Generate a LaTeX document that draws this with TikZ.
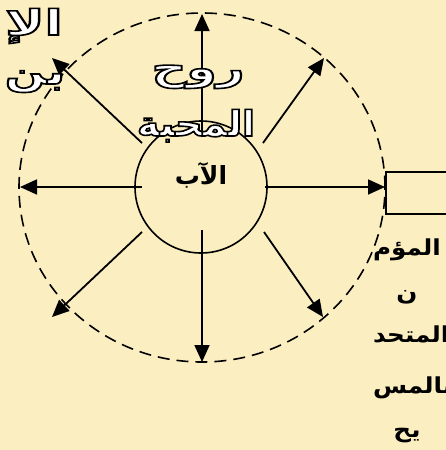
\documentclass[tikz,border=0pt]{standalone}
\usepackage{fontspec}
\usetikzlibrary{arrows.meta,shapes.geometric}
\newfontfamily\arabicfont[Script=Arabic]{DejaVu Sans}
\TeXXeTstate=1
\definecolor{bgc}{HTML}{FBEEC0}
\newcommand\artxt[1]{\arabicfont\beginR #1\endR}
% outlined text: white fill, black stroke (PDF text render mode 2)
\newcommand\outl[1]{\special{pdf:literal direct 1 g 0 G 2 Tr 1.6 w}#1\special{pdf:literal direct 0 Tr 1 w}}
\tikzset{
  otext/.style={inner sep=0pt, outer sep=0pt, anchor=base},
  arr/.style={line width=1.8pt, -{Triangle[length=17pt,width=15pt]}},
}
% name, position, size, x-scale, text
\newcommand\olnode[5]{%
  \node[otext, text=white] (#1) at (#2)
    {\scalebox{#4}[1]{\fontsize{#3}{#3}\selectfont\bfseries\outl{\artxt{#5}}}};
}
% name, position, size, anchor, x-scale, text
\newcommand\blnode[6]{%
  \node[otext, anchor=#4, text=black] (#1) at (#2)
    {\scalebox{#5}[1]{\fontsize{#3}{#3}\selectfont\bfseries\artxt{#6}}};
}
\begin{document}
\begin{tikzpicture}[x=1pt,y=-1pt]
\fill[bgc] (0,0) rectangle (446,450);
\useasboundingbox (0,0) rectangle (446,450);
\begin{scope}
\clip (0,0) rectangle (446,450);
% outer dashed circle
\node[ellipse, draw, dash pattern=on 12pt off 7pt, line width=1.6pt,
      minimum width=366pt, minimum height=349pt, inner sep=0pt, outer sep=0pt] (outer) at (202,187.5) {};
% inner circle
\node[circle, draw, line width=1.6pt, minimum size=132pt, inner sep=0pt, outer sep=0pt] (ab) at (201,187) {};
% box at right
\node[draw, line width=1.8pt, anchor=north west, minimum width=80pt, minimum height=42pt,
      inner sep=0pt] (box) at (385,171) {};
% arrow coordinates
\coordinate (sT) at (202,137); \coordinate (eT) at (202,14);
\coordinate (sB) at (202,230); \coordinate (eB) at (202,362);
\coordinate (sL) at (142,187); \coordinate (eL) at (20,187);
\coordinate (sR) at (265,187); \coordinate (eR) at (385,187);
\coordinate (sUL) at (142,143); \coordinate (eUL) at (52,58);
\coordinate (sUR) at (263,143); \coordinate (eUR) at (324,58);
\coordinate (sLL) at (142,232); \coordinate (eLL) at (52,317);
\coordinate (sLR) at (264,232); \coordinate (eLR) at (323,317);
\foreach \n in {T,B,L,R,UL,UR,LL,LR} \draw[arr] (s\n) -- (e\n);
% texts
\olnode{ruh}{198,80}{35pt}{1.38}{روح}
\olnode{mahabba}{196,136}{35pt}{1.08}{المحبة}
\olnode{ibn1}{34,35}{35pt}{1.5}{الإ}
\olnode{ibn2}{35,84}{35pt}{1.35}{بن}
\blnode{abt}{201,184}{25pt}{base}{1.0}{الآب}
\blnode{m1}{407,255}{22pt}{base}{1.12}{المؤم}
\blnode{m2}{407,300}{22pt}{base}{1.12}{ن}
\blnode{m3}{373,342}{22pt}{base west}{1.12}{المتحد}
\blnode{m4}{373,393}{22pt}{base west}{1.12}{بالمس}
\blnode{m5}{407,437}{22pt}{base}{1.12}{يح}
\end{scope}
\end{tikzpicture}
\end{document}
